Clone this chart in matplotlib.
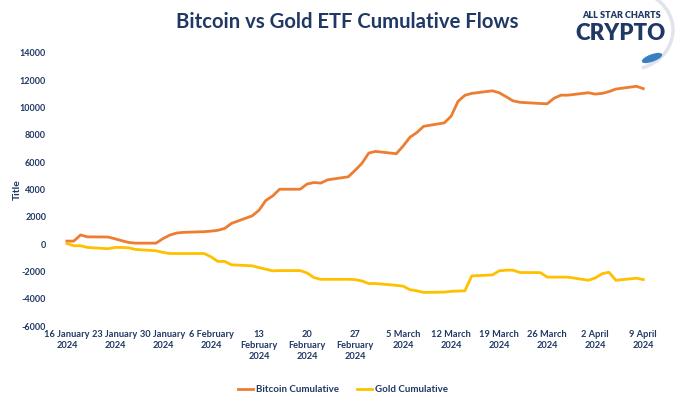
import numpy as np
import pandas as pd
import matplotlib
matplotlib.use("Agg")
import matplotlib.pyplot as plt
import matplotlib.dates as mdates
from matplotlib.patches import Arc, Ellipse
from matplotlib.lines import Line2D

# trading days 16 Jan - 9 Apr 2024 (holidays carry previous value)
dates = pd.bdate_range("2024-01-16", "2024-04-09")

bitcoin = [220, 220, 670, 530,
           520, 390, 250, 120, 70,
           70, 400, 660, 810, 860,
           910, 950, 1010, 1150, 1520,
           2070, 2480, 3200, 3530, 4020,
           4020, 4400, 4510, 4470, 4710,
           4930, 5400, 5920, 6670, 6790,
           6620, 7180, 7830, 8170, 8630,
           8880, 9370, 10450, 10900, 11040,
           11230, 11090, 10800, 10500, 10390,
           10300, 10280, 10690, 10910, 10910,
           11090, 10990, 11040, 11170, 11360,
           11560, 11390]

gold = [50, -120, -120, -245,
        -340, -245, -245, -270, -390,
        -490, -610, -690, -690, -690,
        -690, -930, -1270, -1270, -1520,
        -1590, -1720, -1840, -1960, -1940,
        -1940, -2110, -2450, -2580, -2580,
        -2580, -2600, -2700, -2890, -2890,
        -3020, -3080, -3340, -3420, -3540,
        -3520, -3460, -3440, -3420, -2330,
        -2260, -1960, -1910, -1910, -2080,
        -2090, -2420, -2420, -2420, -2420,
        -2650, -2480, -2170, -2060, -2650,
        -2500, -2600]

tick_dates = pd.date_range("2024-01-16", "2024-04-09", freq="7D")
tick_labels = ["16 January\n2024", "23 January\n2024", "30 January\n2024",
               "6 February\n2024", "13\nFebruary\n2024", "20\nFebruary\n2024",
               "27\nFebruary\n2024", "5 March\n2024", "12 March\n2024",
               "19 March\n2024", "26 March\n2024", "2 April\n2024", "9 April\n2024"]
y_ticks = list(range(-6000, 14001, 2000))

navy = "#1f3864"
orange = "#ed7d31"
yellow = "#ffc000"
plt.rcParams["font.family"] = ["Lato", "DejaVu Sans"]

W, H = 680, 404
fig = plt.figure(figsize=(W / 100, H / 100), dpi=100)
ax = fig.add_axes([60 / W, (H - 326) / H, 597 / W, 273 / H])

ax.plot(dates, bitcoin, color=orange, lw=2.0, solid_joinstyle="round")
ax.plot(dates, gold, color=yellow, lw=2.0, solid_joinstyle="round")

ax.set_xlim(pd.Timestamp("2024-01-15"), pd.Timestamp("2024-04-11"))
ax.set_ylim(-6000, 14000)
ax.set_yticks(y_ticks)
ax.set_yticklabels([str(v) for v in y_ticks], fontsize=6.5, fontweight="bold", color=navy)
ax.set_xticks(tick_dates)
ax.set_xticklabels(tick_labels, fontsize=6.7, fontweight="bold", color=navy, linespacing=1.25)
ax.tick_params(length=0, pad=3)
ax.tick_params(axis="y", pad=10)
for s in ax.spines.values():
    s.set_visible(False)
ax.set_ylabel("Title", fontsize=7.5, fontweight="bold", color=navy)
ax.yaxis.set_label_coords(-(60 - 22) / 597, (326 - 190) / 273)

fig.text(347 / W, (H - 22) / H, "Bitcoin vs Gold ETF Cumulative Flows", ha="center", va="center",
         fontsize=14.6, fontweight="bold", color=navy)

# logo
fig.text(622 / W, (H - 16) / H, "ALL STAR CHARTS", ha="center", va="center",
         fontsize=6.5, fontweight="heavy", color=navy)
fig.text(621 / W, (H - 34) / H, "CRYPTO", ha="center", va="center",
         fontsize=16, fontweight="heavy", color=navy)
arc = Arc((628, H - 30), 90, 80, theta1=-70, theta2=80, color="#dfe4ec", lw=2.5,
          transform=None)
fig.add_artist(arc)
fig.add_artist(Ellipse((652, H - 58), 20, 6, angle=20, color="#3a7fc1", transform=None))

handles = [Line2D([], [], color=orange, lw=2), Line2D([], [], color=yellow, lw=2)]
leg = fig.legend(handles, ["Bitcoin Cumulative", "Gold Cumulative"], loc="center",
                 bbox_to_anchor=(343 / W, (H - 390) / H), ncol=2, frameon=False,
                 handlelength=1.6, handletextpad=0.3, columnspacing=1.8, fontsize=7)
for t in leg.get_texts():
    t.set_color(navy)
    t.set_fontweight("bold")

fig.savefig("out.png", dpi=100)
